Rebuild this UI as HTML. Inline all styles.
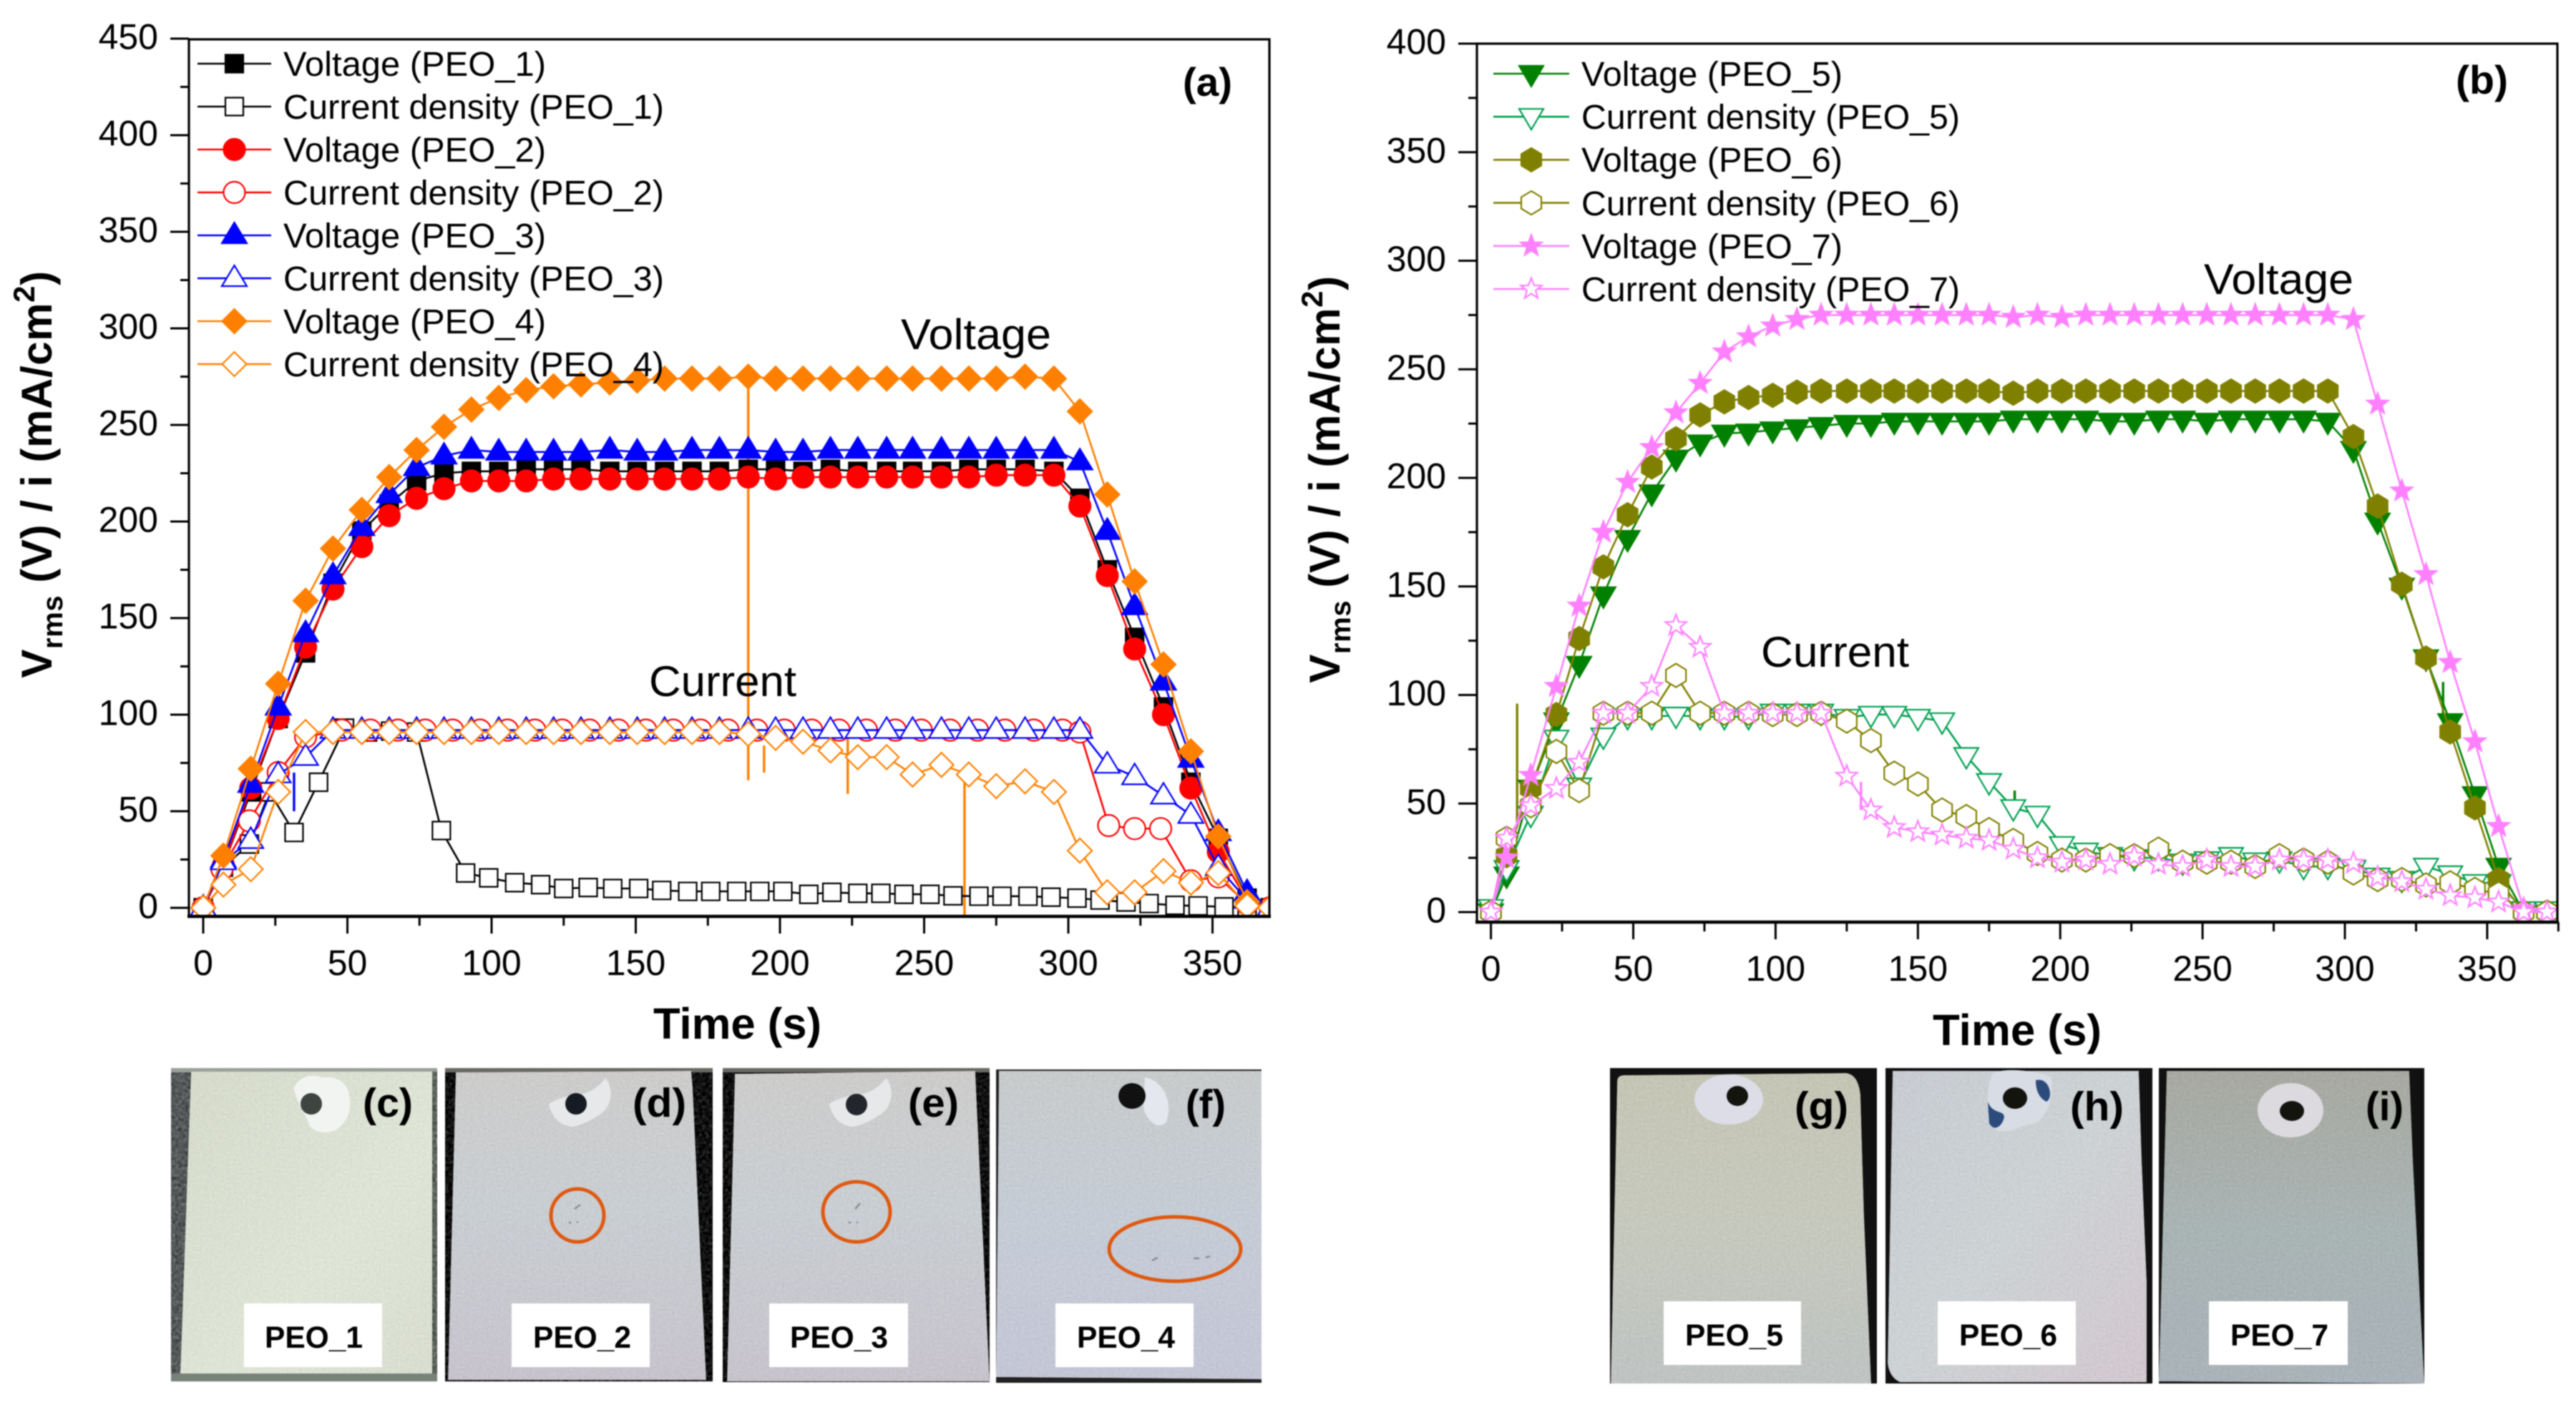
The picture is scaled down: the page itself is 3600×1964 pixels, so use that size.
<!DOCTYPE html>
<html lang="en">
<head>
<meta charset="utf-8">
<title>PEO voltage and current density transients</title>
<style>
html,body{margin:0;padding:0;background:#fff;width:3600px;height:1964px;overflow:hidden}
svg{display:block;filter:blur(0.7px)}
text{font-family:"Liberation Sans",sans-serif;fill:#000}
.b{font-weight:bold}
</style>
</head>
<body>
<svg id="figure" xmlns="http://www.w3.org/2000/svg" width="3600" height="1964" viewBox="0 0 3600 1964">
<defs>
<clipPath id="clip-a"><rect x="264" y="55" width="1510" height="1226"/></clipPath>
<clipPath id="clip-b"><rect x="2064" y="61" width="1510" height="1228"/></clipPath>
<linearGradient id="gc" x1="0" y1="0" x2="1" y2="1"><stop offset="0" stop-color="#d5dacb"/><stop offset="0.6" stop-color="#dfe5d6"/><stop offset="1" stop-color="#d8ddd0"/></linearGradient>
<linearGradient id="gd" x1="0" y1="0" x2="0" y2="1"><stop offset="0" stop-color="#cdcccb"/><stop offset="0.45" stop-color="#c9ced2"/><stop offset="1" stop-color="#c7c3cc"/></linearGradient>
<linearGradient id="gf" x1="0" y1="0" x2="0" y2="1"><stop offset="0" stop-color="#c8cbcb"/><stop offset="0.5" stop-color="#c5ccd6"/><stop offset="1" stop-color="#c4c6d6"/></linearGradient>
<linearGradient id="gg" x1="0" y1="0" x2="0" y2="1"><stop offset="0" stop-color="#c5c5b5"/><stop offset="0.5" stop-color="#c6c9bd"/><stop offset="1" stop-color="#bfc3c2"/></linearGradient>
<linearGradient id="gh" x1="0" y1="0" x2="1" y2="1"><stop offset="0" stop-color="#c8ccd2"/><stop offset="0.5" stop-color="#cdd2d4"/><stop offset="1" stop-color="#d2c8cf"/></linearGradient>
<linearGradient id="gi" x1="0" y1="0" x2="0" y2="1"><stop offset="0" stop-color="#a8a9a1"/><stop offset="0.5" stop-color="#a9b4b4"/><stop offset="1" stop-color="#aab3b9"/></linearGradient>
<filter id="grain" x="0" y="0" width="100%" height="100%" color-interpolation-filters="sRGB">
<feTurbulence type="fractalNoise" baseFrequency="0.3" numOctaves="2" seed="3" result="n"/>
<feColorMatrix in="n" type="matrix" values="0.33 0.33 0.33 0 0 0.33 0.33 0.33 0 0 0.33 0.33 0.33 0 0 0 0 0 0 1" result="m"/>
<feComposite in="SourceGraphic" in2="m" operator="arithmetic" k1="0" k2="1" k3="0.14" k4="-0.07" result="c"/>
<feComposite in="c" in2="SourceGraphic" operator="in"/>
</filter>
<filter id="grain-dark" x="0" y="0" width="100%" height="100%" color-interpolation-filters="sRGB">
<feTurbulence type="fractalNoise" baseFrequency="0.22" numOctaves="2" seed="7" result="n"/>
<feColorMatrix in="n" type="matrix" values="0.33 0.33 0.33 0 0 0.33 0.33 0.33 0 0 0.33 0.33 0.33 0 0 0 0 0 0 1" result="m"/>
<feComposite in="SourceGraphic" in2="m" operator="arithmetic" k1="0" k2="1" k3="0.7" k4="-0.35" result="c"/>
<feComposite in="c" in2="SourceGraphic" operator="in"/>
</filter>
</defs>

<g id="panel-a"></g>
<g id="panel-b"></g>

<text class="b" transform="translate(72,663) rotate(-90)" text-anchor="middle" font-size="60" letter-spacing="0.6">V<tspan dy="15" font-size="40">rms</tspan><tspan dy="-15"> (V) / i (mA/cm</tspan><tspan dy="-24" font-size="42">2</tspan><tspan dy="24">)</tspan></text>
<text class="b" transform="translate(1872,670) rotate(-90)" text-anchor="middle" font-size="60" letter-spacing="0.6">V<tspan dy="15" font-size="40">rms</tspan><tspan dy="-15"> (V) / i (mA/cm</tspan><tspan dy="-24" font-size="42">2</tspan><tspan dy="24">)</tspan></text>
<text class="b" x="913" y="1452" font-size="61" textLength="235" lengthAdjust="spacingAndGlyphs">Time (s)</text>
<text class="b" x="2701" y="1461" font-size="61" textLength="236" lengthAdjust="spacingAndGlyphs">Time (s)</text>

<g font-size="48">
<text x="396" y="106" textLength="367" lengthAdjust="spacingAndGlyphs">Voltage (PEO_1)</text>
<text x="396" y="166" textLength="532" lengthAdjust="spacingAndGlyphs">Current density (PEO_1)</text>
<text x="396" y="226" textLength="367" lengthAdjust="spacingAndGlyphs">Voltage (PEO_2)</text>
<text x="396" y="286" textLength="532" lengthAdjust="spacingAndGlyphs">Current density (PEO_2)</text>
<text x="396" y="346" textLength="367" lengthAdjust="spacingAndGlyphs">Voltage (PEO_3)</text>
<text x="396" y="406" textLength="532" lengthAdjust="spacingAndGlyphs">Current density (PEO_3)</text>
<text x="396" y="466" textLength="367" lengthAdjust="spacingAndGlyphs">Voltage (PEO_4)</text>
<text x="396" y="526" textLength="532" lengthAdjust="spacingAndGlyphs">Current density (PEO_4)</text>
</g>
<g font-size="48">
<text x="2210" y="120" textLength="365" lengthAdjust="spacingAndGlyphs">Voltage (PEO_5)</text>
<text x="2210" y="180" textLength="529" lengthAdjust="spacingAndGlyphs">Current density (PEO_5)</text>
<text x="2210" y="240" textLength="365" lengthAdjust="spacingAndGlyphs">Voltage (PEO_6)</text>
<text x="2210" y="301" textLength="529" lengthAdjust="spacingAndGlyphs">Current density (PEO_6)</text>
<text x="2210" y="361" textLength="365" lengthAdjust="spacingAndGlyphs">Voltage (PEO_7)</text>
<text x="2210" y="421" textLength="529" lengthAdjust="spacingAndGlyphs">Current density (PEO_7)</text>
</g>

<text class="b" x="1653" y="134" font-size="56" textLength="69" lengthAdjust="spacingAndGlyphs">(a)</text>
<text class="b" x="3432" y="131" font-size="56" textLength="73" lengthAdjust="spacingAndGlyphs">(b)</text>
<text x="1259" y="488" font-size="60" textLength="210" lengthAdjust="spacingAndGlyphs">Voltage</text>
<text x="907" y="973" font-size="60" textLength="206" lengthAdjust="spacingAndGlyphs">Current</text>
<text x="3080" y="411" font-size="60" textLength="209" lengthAdjust="spacingAndGlyphs">Voltage</text>
<text x="2461" y="932" font-size="60" textLength="207" lengthAdjust="spacingAndGlyphs">Current</text>

<!-- Photographs -->
<g>
<rect x="239" y="1493" width="372" height="438" fill="#55595a" filter="url(#grain-dark)"/>
<rect x="239" y="1493" width="372" height="6" fill="#9aa09a"/>
<rect x="239" y="1920" width="372" height="11" fill="#77827a"/>
<rect x="604" y="1498" width="7" height="422" fill="#5d625c" filter="url(#grain-dark)"/>
<polygon points="267,1498 604,1498 604,1920 252,1920" fill="url(#gc)" filter="url(#grain)"/>
<path d="M411 1520 C416 1508 432 1500 450 1506 C470 1504 486 1512 488 1532 C492 1552 486 1566 472 1578 C458 1586 438 1584 432 1572 C428 1558 412 1538 411 1520Z" fill="#f2f4f2"/>
<ellipse cx="435" cy="1543" rx="15" ry="15" fill="#3e4440"/>
<rect x="341" y="1822" width="193" height="89" fill="#fff"/>
<text class="b" x="370" y="1884" font-size="43" textLength="137" lengthAdjust="spacingAndGlyphs">PEO_1</text>
<text class="b" x="507" y="1561" font-size="57" textLength="70" lengthAdjust="spacingAndGlyphs">(c)</text>
</g>
<g>
<rect x="622" y="1493" width="374" height="438" fill="#111" filter="url(#grain-dark)"/>
<rect x="622" y="1493" width="374" height="6" fill="#6a6a64"/>
<polygon points="637,1499 966,1497 968,1520 987,1929 626,1929" fill="url(#gd)" filter="url(#grain)"/>
<path d="M767 1543 C775 1538 790 1532 805 1530 C820 1530 835 1522 846 1507 C858 1520 856 1548 838 1558 C826 1566 815 1572 800 1575 C782 1574 770 1560 767 1543Z" fill="#e6e8ea"/>
<ellipse cx="805" cy="1543" rx="15" ry="15" fill="#161a22"/>
<ellipse cx="807" cy="1699" rx="37" ry="37" fill="none" stroke="#e0580f" stroke-width="5"/>
<path d="M803 1690 l8 -6 M795 1708 l3 2 M806 1708 l2 1" stroke="#8a9098" stroke-width="2.5" fill="none"/>
<rect x="715" y="1822" width="193" height="89" fill="#fff"/>
<text class="b" x="745" y="1884" font-size="43" textLength="137" lengthAdjust="spacingAndGlyphs">PEO_2</text>
<text class="b" x="884" y="1561" font-size="57" textLength="75" lengthAdjust="spacingAndGlyphs">(d)</text>
</g>
<g>
<rect x="1010" y="1493" width="373" height="439" fill="#111" filter="url(#grain-dark)"/>
<rect x="1010" y="1493" width="373" height="6" fill="#6a6a64"/>
<polygon points="1027,1501 1363,1497 1364,1520 1383,1931 1016,1931" fill="url(#gd)" filter="url(#grain)"/>
<path d="M1159 1543 C1167 1538 1182 1532 1197 1530 C1212 1530 1227 1522 1238 1507 C1250 1520 1248 1548 1230 1558 C1218 1566 1207 1572 1192 1575 C1174 1574 1162 1560 1159 1543Z" fill="#e6e8ea"/>
<ellipse cx="1197" cy="1544" rx="15" ry="15" fill="#22262c"/>
<ellipse cx="1197" cy="1694" rx="47" ry="42" fill="none" stroke="#e0580f" stroke-width="5"/>
<path d="M1195 1690 l7 -8 M1186 1708 l3 2 M1197 1708 l2 1" stroke="#8a9098" stroke-width="2.5" fill="none"/>
<rect x="1075" y="1822" width="194" height="89" fill="#fff"/>
<text class="b" x="1104" y="1884" font-size="43" textLength="137" lengthAdjust="spacingAndGlyphs">PEO_3</text>
<text class="b" x="1269" y="1561" font-size="57" textLength="71" lengthAdjust="spacingAndGlyphs">(e)</text>
</g>
<g>
<rect x="1392" y="1495" width="371" height="438" fill="#222"/>
<polygon points="1396,1497 1763,1497 1763,1928 1392,1925" fill="url(#gf)" filter="url(#grain)"/>
<path d="M1600 1506 C1625 1510 1640 1540 1630 1568 C1620 1580 1605 1570 1598 1550Z" fill="#e4e8ee"/>
<ellipse cx="1582" cy="1532" rx="19" ry="18" fill="#111"/>
<ellipse cx="1642" cy="1746" rx="92" ry="45" fill="none" stroke="#e0580f" stroke-width="5"/>
<path d="M1610 1762 l8 -4 M1668 1759 l8 0 M1685 1758 l6 -2" stroke="#8a8a98" stroke-width="2.5" fill="none"/>
<rect x="1475" y="1822" width="193" height="89" fill="#fff"/>
<text class="b" x="1505" y="1884" font-size="43" textLength="137" lengthAdjust="spacingAndGlyphs">PEO_4</text>
<text class="b" x="1657" y="1563" font-size="57" textLength="56" lengthAdjust="spacingAndGlyphs">(f)</text>
</g>
<g>
<rect x="2250" y="1493" width="373" height="441" fill="#111"/>
<path d="M2260 1512 Q2260 1503 2270 1503 L2580 1500 Q2597 1502 2600 1530 L2605 1700 L2615 1934 L2251 1934Z" fill="url(#gg)" filter="url(#grain)"/>
<ellipse cx="2416" cy="1537" rx="48" ry="35" fill="#dcdde6"/>
<ellipse cx="2428" cy="1532" rx="15" ry="14" fill="#14140f"/>
<rect x="2325" y="1819" width="192" height="89" fill="#fff"/>
<text class="b" x="2355" y="1881" font-size="43" textLength="137" lengthAdjust="spacingAndGlyphs">PEO_5</text>
<text class="b" x="2508" y="1566" font-size="57" textLength="75" lengthAdjust="spacingAndGlyphs">(g)</text>
</g>
<g>
<rect x="2635" y="1493" width="373" height="441" fill="#111"/>
<path d="M2645 1497 L2989 1497 L2993 1620 L3000 1790 L3000 1932 L2655 1932 Q2640 1925 2638 1905Z" fill="url(#gh)" filter="url(#grain)"/>
<path d="M2785 1500 C2800 1493 2840 1495 2866 1505 C2872 1530 2862 1560 2845 1570 C2825 1572 2810 1585 2790 1580 C2775 1560 2775 1520 2785 1500Z" fill="#d8dce4"/>
<path d="M2778 1540 C2785 1560 2805 1550 2800 1565 C2795 1578 2785 1580 2780 1570Z M2845 1510 C2865 1505 2870 1535 2860 1540 C2850 1535 2845 1525 2845 1510Z" fill="#2c4b7c"/>
<ellipse cx="2816" cy="1535" rx="17" ry="15" fill="#14140f"/>
<rect x="2708" y="1819" width="193" height="89" fill="#fff"/>
<text class="b" x="2738" y="1881" font-size="43" textLength="137" lengthAdjust="spacingAndGlyphs">PEO_6</text>
<text class="b" x="2893" y="1566" font-size="57" textLength="75" lengthAdjust="spacingAndGlyphs">(h)</text>
</g>
<g>
<rect x="3017" y="1493" width="371" height="441" fill="#111"/>
<polygon points="3028,1497 3367,1497 3372,1620 3388,1934 3017,1931" fill="url(#gi)" filter="url(#grain)"/>
<ellipse cx="3201" cy="1552" rx="46" ry="38" fill="#dcdadf"/>
<ellipse cx="3203" cy="1553" rx="17" ry="14" fill="#14140f"/>
<rect x="3087" y="1819" width="194" height="89" fill="#fff"/>
<text class="b" x="3117" y="1881" font-size="43" textLength="137" lengthAdjust="spacingAndGlyphs">PEO_7</text>
<text class="b" x="3306" y="1566" font-size="57" textLength="53" lengthAdjust="spacingAndGlyphs">(i)</text>
</g>
</svg>

<script>
// ---- Panel (a) data ----
const timeA = [0,7,16.5,26,35.5,45,55,64.5,74,83.5,93,102.5,112,121.5,131,141,150.5,160,169.5,179,189,198.5,208,217.5,227,237,246,256,265.5,275,285,295,304,313.5,323,333,342.5,352,362,370];
const voltagePeo1 = [0,22,60,98,132,168,195,209,221,225,226,226,227,227,227,226,226,226,226,226,227,227,226,227,226,226,226,226,227,227,227,226,212,175,140,104,65,36,5,0];
const timePeo1Current = [0,7,16,23,31.5,40,49,57,65,74,82.6,91,99,108,117,125,133.5,142,151,159,168,176,185,193,201,210,218,227,235,243,252,260,269,277,286,294,303,311,320,328,337,345,354,362,370];
const currentPeo1 = [0,21,33,60,39,65,93,91,91.5,91,40,18,15.5,13,12,10,10.5,10,10,9,8.5,8.5,8.5,8.5,8.5,7,8,7.5,7.5,7,7,6.2,6,6,6,5.5,5,4,3,2.2,1.3,1,0.5,0,0];
const voltagePeo2 = [0,22,62,98,135,165,187,203,212,217,221,221,221,222,222,222,222,222,222,222,223,222,223,223,223,223,223,223,223,224,224,224,208,172,134,100,62,29,4,0];
const timePeo2Current = [0,6.5,16,26,35.5,48,58,67.5,77,86.5,96,105.5,115,124.5,134,144,153.5,163,172.5,182,192,201.5,211,220.5,230,240,249,259,268.5,278,288,298,304,314,323,332,342.5,352,362,370];
const currentPeo2 = [0,20,45,70,88.5,92,92,92,92,92,92,92,92,92,92,92,92,92,92,92,92,92,92,92,92,92,92,92,92,92,92,92,91,42.6,41,41,14,16,2,0];
const voltagePeo3 = [0,25,64,104,142,172,197,214,228,234,237,236,236,236,236,237,236,236,237,237,237,236,236,237,237,237,237,237,237,237,237,237,231,195,156,117,77,39,8,0];
const currentPeo3 = [0,24,35,69,78,92,92,92,92,92,92,92,92,92,92,92,92,92,92,92,92,92,92,92,92,92,92,92,92,92,92,92,92,74,68,58,48,21,4,0];
const voltagePeo4 = [0,27,72,116,159,186,206,223,237,249,258,264,268,270,271,272,273,274,274,274,275,274,274,274,274,274,274,274,274,274,275,274,257,214,169,126,81,37,3,0];
const currentPeo4 = [0,12,20,60,91,91,91,91,91,91,91,91,91,91,91,91,91,91,91,91,90,88,86,81.5,78,78,69,74,69,63,65.5,60,29.6,8,8,19,13,18,1,0];
const peo4SpikeTimes = [189,194.5,223.5,264];
const peo4SpikeTop = [274,84,88,69];
const peo4SpikeBottom = [66,70,59,-5];
const peo3SpikeTimes = [31.5];
const peo3SpikeTop = [70];
const peo3SpikeBottom = [50];

// ---- Panel (b) data ----
const timeB = [0,5.5,14,23,31,39.5,48,56.5,65,73.5,82,90.5,99,107.5,116,125,133.5,141.7,150,158.5,167,175,183.5,192,200.6,209,217.5,226,234.5,243,251.5,260,268.5,277,285.5,294,303,311.5,320,328.5,337,345.7,354,362.8,371];
const voltagePeo5 = [0,17,57,88,114,146,172,193,209,216,220.5,221,222,223,224,225,225,226,226,226,226,226,227,227,227,227,226,226,227,227,226,227,227,227,227,226,213,180,150,117,87.6,54,21,0,0];
const currentPeo5 = [2,20,45,80,58,81,90,90,90.6,90,90,90,92,92,92,89.6,91,91,89.6,88,72,60,48,45,31,28,26,25,25,23,24,26,23.5,24,21,21,20,16.5,15,21,17.5,13.5,13.5,1,1];
const voltagePeo6 = [0,26,57,91,126,159,183,205,218,229,235,237,238,239.5,240,240,240,240,240,240,240,240,239,240,240,240,240,240,240,240,240,240,240,240,240,240,219,187,151,117,83,48,15,0,0];
const currentPeo6 = [0,34,49,74,56,91.6,91.6,91.6,109,91.6,91.6,91.6,91,91,91.6,88,79,64,59,47,44,38,33,27,24,24,26,26,29,23,23,23,21,26,24,23,18,15,15,12.5,13.5,10.5,8.5,0,0];
const voltagePeo7 = [0,25,63,104,141,175,198,214,230,243.6,258,265,270,273,275,275,275,275,275,275,275,275,274,275,274,275,275,275,275,275,275,275,275,275,275,275,273,234,194,155.5,115,78.5,39.5,1.6,0];
const currentPeo7 = [0,34,49,57,69,91.6,91.6,104,132,122,91.6,91.6,91.6,91.6,91.6,62.6,47,39,37,35.5,34,33,29,25,23,24,22,25.7,22,21,24,21,21,24,24,24,22.5,16,14,10.5,7.6,6.6,4.6,0,0];
const peo6SpikeTimes = [9.2];
const peo6SpikeTop = [96];
const peo6SpikeBottom = [41];
const peo7SpikeTimes = [130];
const peo7SpikeTop = [60];
const peo7SpikeBottom = [47];
const peo5SpikeTimes = [334.5,184];
const peo5SpikeTop = [106,56];
const peo5SpikeBottom = [87,46];

// ---- Axis tick labels ----
const xTickLabelsA = [0,50,100,150,200,250,300,350];
const xMinorTicksA = [25,75,125,175,225,275,325];
const yTickLabelsA = [0,50,100,150,200,250,300,350,400,450];
const yMinorTicksA = [25,75,125,175,225,275,325,375,425];
const xTickLabelsB = [0,50,100,150,200,250,300,350];
const xMinorTicksB = [25,75,125,175,225,275,325,375];
const yTickLabelsB = [0,50,100,150,200,250,300,350,400];
const yMinorTicksB = [25,75,125,175,225,275,325,375];

const NS = 'http://www.w3.org/2000/svg';
function mk(parent, tag, attrs) {
  const el = document.createElementNS(NS, tag);
  for (const k in attrs) el.setAttribute(k, attrs[k]);
  parent.appendChild(el);
  return el;
}
function starPoints(R, r) {
  const p = [];
  for (let i = 0; i < 10; i++) {
    const a = -Math.PI / 2 + i * Math.PI / 5;
    const d = i % 2 ? r : R;
    p.push((d * Math.cos(a)).toFixed(1) + ',' + (d * Math.sin(a)).toFixed(1));
  }
  return p.join(' ');
}
const shapePoints = {
  square: '-12.5,-12.5 12.5,-12.5 12.5,12.5 -12.5,12.5',
  triangle: '0,-18 17.5,11 -17.5,11',
  diamond: '0,-17 17,0 0,17 -17,0',
  invtriangle: '-17,-11 17,-11 0,18',
  hexagon: '0,-16.5 14,-8 14,8 0,16.5 -14,8 -14,-8',
  star: starPoints(15.5, 6.4)
};
function drawMarker(parent, shape, cx, cy, color, filled) {
  const fill = filled ? color : '#fff';
  if (shape === 'circle') {
    return mk(parent, 'circle', {cx: cx, cy: cy, r: 15, fill: fill, stroke: color, 'stroke-width': 2.2});
  }
  return mk(parent, 'polygon', {points: shapePoints[shape], transform: 'translate(' + cx + ',' + cy + ')', fill: fill, stroke: color, 'stroke-width': 2.2, 'stroke-linejoin': 'miter'});
}

function drawPanel(cfg) {
  const root = document.getElementById(cfg.id);
  const sx = t => cfg.x0 + cfg.xScale * t;
  const sy = v => cfg.y0 - cfg.yScale * v;

  const plot = mk(root, 'g', {'clip-path': 'url(#' + cfg.clip + ')'});
  
  

  cfg.spikes.forEach(sp => {
    sp.times.forEach((t, i) => {
      const line = mk(plot, 'line', {x1: sx(t), x2: sx(t), y1: sy(sp.top[i]), y2: sy(sp.bottom[i]), stroke: sp.color, 'stroke-width': 3.4});
      
      
    });
  });

  cfg.series.forEach(s => {
    const g = mk(plot, 'g', {});
    
    
    const pts = s.t.map((t, i) => sx(t).toFixed(1) + ',' + sy(s.v[i]).toFixed(1)).join(' ');
    const line = mk(g, 'polyline', {points: pts, fill: 'none', stroke: s.lineColor || s.color, 'stroke-width': 2.6});
    
    
    s.t.forEach((t, i) => {
      const m = drawMarker(g, s.shape, sx(t), sy(s.v[i]), s.color, s.filled);
      
      
    });
  });

  // legend samples
  cfg.series.forEach((s, i) => {
    const ly = cfg.legendY + i * cfg.legendStep;
    const g = mk(root, 'g', {});
    
    
    mk(g, 'line', {x1: cfg.legendX1, x2: cfg.legendX2, y1: ly, y2: ly, stroke: s.lineColor || s.color, 'stroke-width': 2.6});
    drawMarker(g, s.shape, (cfg.legendX1 + cfg.legendX2) / 2, ly, s.color, s.filled);
  });

  // frame
  const frame = mk(root, 'rect', {x: cfg.left, y: cfg.top, width: cfg.right - cfg.left, height: cfg.bottom - cfg.top, fill: 'none', stroke: '#000', 'stroke-width': 3.2});
  
  
  mk(root, 'line', {x1: cfg.left - 2, x2: cfg.right + 2, y1: cfg.bottom, y2: cfg.bottom, stroke: '#000', 'stroke-width': 4.5});

  // x axis
  const xAxis = mk(root, 'g', {stroke: '#000', 'stroke-width': 3});
  
  
  cfg.xMajor.forEach(v => {
    mk(xAxis, 'line', {x1: sx(v), x2: sx(v), y1: cfg.bottom, y2: cfg.bottom + 24});
    const lab = mk(root, 'text', {x: sx(v), y: cfg.xLabelY, 'text-anchor': 'middle', 'font-size': 50});
    
    
    lab.textContent = v;
  });
  cfg.xMinor.forEach(v => {
    mk(xAxis, 'line', {x1: sx(v), x2: sx(v), y1: cfg.bottom, y2: cfg.bottom + 13});
  });

  // y axis
  const yAxis = mk(root, 'g', {stroke: '#000', 'stroke-width': 3});
  
  
  cfg.yMajor.forEach(v => {
    mk(yAxis, 'line', {x1: cfg.left - 26, x2: cfg.left, y1: sy(v), y2: sy(v)});
    const lab = mk(root, 'text', {x: cfg.left - 43, y: sy(v) + 14.5, 'text-anchor': 'end', 'font-size': 50});
    
    
    lab.textContent = v;
  });
  cfg.yMinor.forEach(v => {
    mk(yAxis, 'line', {x1: cfg.left - 12, x2: cfg.left, y1: sy(v), y2: sy(v)});
  });
}

drawPanel({
  id: 'panel-a', clip: 'clip-a',
  left: 264, right: 1774, top: 55, bottom: 1281,
  x0: 284, xScale: 4.03, y0: 1269, yScale: 2.7,
  xLabelY: 1363,
  xMajor: xTickLabelsA, xMinor: xMinorTicksA, yMajor: yTickLabelsA, yMinor: yMinorTicksA,
  legendX1: 276, legendX2: 379, legendY: 89, legendStep: 60,
  spikes: [
    {times: peo4SpikeTimes, top: peo4SpikeTop, bottom: peo4SpikeBottom, color: '#ff8000'},
    {times: peo3SpikeTimes, top: peo3SpikeTop, bottom: peo3SpikeBottom, color: '#0000ff'}
  ],
  series: [
    {name: 'voltage-peo-1', t: timeA, v: voltagePeo1, color: '#000000', shape: 'square', filled: true},
    {name: 'current-peo-1', t: timePeo1Current, v: currentPeo1, color: '#000000', shape: 'square', filled: false},
    {name: 'voltage-peo-2', t: timeA, v: voltagePeo2, color: '#ff0000', shape: 'circle', filled: true},
    {name: 'current-peo-2', t: timePeo2Current, v: currentPeo2, color: '#ff0000', shape: 'circle', filled: false},
    {name: 'voltage-peo-3', t: timeA, v: voltagePeo3, color: '#0000ff', shape: 'triangle', filled: true},
    {name: 'current-peo-3', t: timeA, v: currentPeo3, color: '#0000ff', shape: 'triangle', filled: false},
    {name: 'voltage-peo-4', t: timeA, v: voltagePeo4, color: '#ff8000', shape: 'diamond', filled: true},
    {name: 'current-peo-4', t: timeA, v: currentPeo4, color: '#ff8000', shape: 'diamond', filled: false}
  ]
});

drawPanel({
  id: 'panel-b', clip: 'clip-b',
  left: 2064, right: 3574, top: 61, bottom: 1289,
  x0: 2083.6, xScale: 3.978, y0: 1275, yScale: 3.035,
  xLabelY: 1371,
  xMajor: xTickLabelsB, xMinor: xMinorTicksB, yMajor: yTickLabelsB, yMinor: yMinorTicksB,
  legendX1: 2087, legendX2: 2193, legendY: 103, legendStep: 60.2,
  spikes: [
    {times: peo6SpikeTimes, top: peo6SpikeTop, bottom: peo6SpikeBottom, color: '#808000'},
    {times: peo7SpikeTimes, top: peo7SpikeTop, bottom: peo7SpikeBottom, color: '#ff80ff'},
    {times: peo5SpikeTimes, top: peo5SpikeTop, bottom: peo5SpikeBottom, color: '#008000'}
  ],
  series: [
    {name: 'voltage-peo-5', t: timeB, v: voltagePeo5, color: '#008000', shape: 'invtriangle', filled: true},
    {name: 'current-peo-5', t: timeB, v: currentPeo5, color: '#00a050', shape: 'invtriangle', filled: false},
    {name: 'voltage-peo-6', t: timeB, v: voltagePeo6, color: '#808000', shape: 'hexagon', filled: true},
    {name: 'current-peo-6', t: timeB, v: currentPeo6, color: '#808000', shape: 'hexagon', filled: false},
    {name: 'voltage-peo-7', t: timeB, v: voltagePeo7, color: '#ff80ff', shape: 'star', filled: true},
    {name: 'current-peo-7', t: timeB, v: currentPeo7, color: '#ff80ff', shape: 'star', filled: false}
  ]
});
</script>
</body>
</html>
